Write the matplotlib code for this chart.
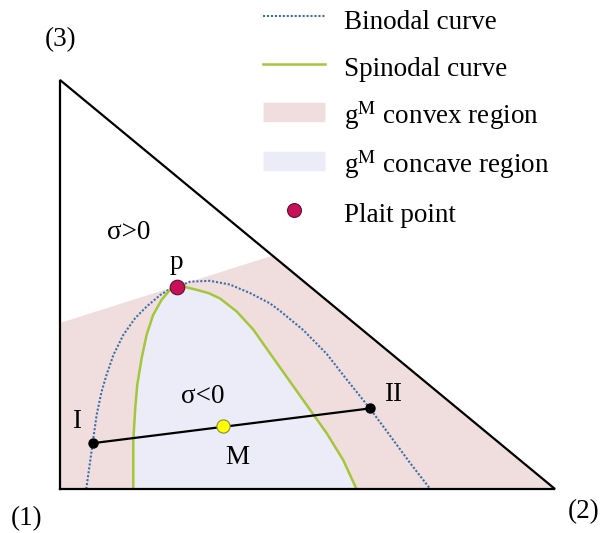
import numpy as np
import matplotlib.pyplot as plt
from matplotlib.lines import Line2D

plt.rcParams['font.family'] = ['Liberation Serif', 'DejaVu Serif']
plt.rcParams['mathtext.fontset'] = 'stix'

# composition coordinates: x2 = fraction of (2), x3 = fraction of (3)
triangle_x2 = [0.0, 1.0, 0.0, 0.0]
triangle_x3 = [0.0, 0.0, 1.0, 0.0]

binodal_x2 = [0.053, 0.059, 0.066, 0.074, 0.084, 0.094, 0.108, 0.128, 0.152,
              0.175, 0.202, 0.222, 0.236, 0.263, 0.303, 0.343, 0.384, 0.424,
              0.444, 0.492, 0.539, 0.579, 0.626, 0.667, 0.707, 0.748]
binodal_x3 = [0.000, 0.051, 0.112, 0.181, 0.238, 0.279, 0.328, 0.377, 0.418,
              0.446, 0.474, 0.489, 0.494, 0.507, 0.509, 0.500, 0.479, 0.454,
              0.436, 0.388, 0.330, 0.268, 0.197, 0.130, 0.064, 0.000]

spinodal_x2 = [0.148, 0.148, 0.152, 0.156, 0.165, 0.175, 0.188, 0.205, 0.222,
               0.236, 0.249, 0.276, 0.300, 0.323, 0.357, 0.391, 0.424, 0.458,
               0.492, 0.539, 0.572, 0.599]
spinodal_x3 = [0.000, 0.116, 0.198, 0.254, 0.320, 0.377, 0.425, 0.462, 0.487,
               0.494, 0.495, 0.487, 0.479, 0.466, 0.434, 0.389, 0.332, 0.274,
               0.216, 0.136, 0.071, 0.000]

# convex region: below the straight boundary through the plait point
convex_x2 = [0.0, 0.428, 1.0, 0.0]
convex_x3 = [0.406, 0.570, 0.0, 0.0]

plait = (0.236, 0.494)
phase_I = (0.066, 0.112)
phase_II = (0.626, 0.197)
mixture_M = (0.329, 0.155)

convex_color = '#f0dedf'
concave_color = '#ececf8'

fig = plt.figure(figsize=(6.02, 5.33), dpi=100)
ax = fig.add_axes([60 / 602, 44 / 533, 495 / 602, 409 / 533])
ax.set_xlim(0, 1)
ax.set_ylim(0, 1)
ax.axis('off')

binodal_style = dict(color='#3d6fa3', lw=1.5, dashes=(1, 0.9))
spinodal_style = dict(color='#a4c63a', lw=1.8)

ax.fill(convex_x2, convex_x3, color=convex_color, lw=0, zorder=1)
ax.fill(spinodal_x2, spinodal_x3, color=concave_color, lw=0, zorder=2)
ax.plot(binodal_x2, binodal_x3, zorder=3, **binodal_style)
ax.plot(spinodal_x2, spinodal_x3, zorder=4, solid_joinstyle='round',
        **spinodal_style)
ax.plot(triangle_x2, triangle_x3, color='black', lw=1.6, zorder=5,
        clip_on=False, solid_joinstyle='miter')

ax.plot([phase_I[0], phase_II[0]], [phase_I[1], phase_II[1]], color='black',
        lw=1.6, marker='o', ms=6.5, zorder=6)
ax.plot(*mixture_M, marker='o', ms=9.5, color='#ffff00', mec='#8a8a40',
        mew=0.8, zorder=7)
ax.plot(*plait, marker='o', ms=10.5, color='#c8105a', mec='#60102c',
        mew=0.8, zorder=7, clip_on=False)

fs = 19.5
ax.text(-0.067, -0.072, '(1)', fontsize=fs, ha='center', va='center', clip_on=False)
ax.text(1.057, -0.055, '(2)', fontsize=fs, ha='center', va='center', clip_on=False)
ax.text(0.002, 1.098, '(3)', fontsize=fs, ha='center', va='center', clip_on=False)
ax.text(0.138, 0.626, 'σ>0', fontsize=fs, ha='center', va='center')
ax.text(0.289, 0.225, 'σ<0', fontsize=fs, ha='center', va='center')
ax.text(0.236, 0.555, 'p', fontsize=fs, ha='center', va='center')
ax.text(0.034, 0.164, 'I', fontsize=fs, ha='center', va='center')
ax.text(0.672, 0.230, 'II', fontsize=fs, ha='center', va='center')
ax.text(0.358, 0.078, 'M', fontsize=fs, ha='center', va='center')

# thick butt-capped lines stand in for the filled swatches so every row has the same height
handles = [
    Line2D([], [], **binodal_style),
    Line2D([], [], **spinodal_style),
    Line2D([], [], color=convex_color, lw=14, solid_capstyle='butt'),
    Line2D([], [], color=concave_color, lw=14, solid_capstyle='butt'),
    Line2D([], [], ls='none', marker='o', ms=10, color='#c8105a',
           mec='#60102c', mew=0.8),
]
labels = ['Binodal curve', 'Spinodal curve', r'g$^{\mathrm{M}}$ convex region',
          r'g$^{\mathrm{M}}$ concave region', 'Plait point']
fig.legend(handles, labels, loc='upper left', bbox_to_anchor=(263 / 602, 1 - 4 / 533),
           frameon=False, fontsize=fs, handlelength=2.3, handleheight=1.4,
           handletextpad=0.68, labelspacing=0.60, borderpad=0, borderaxespad=0)

fig.savefig('out.png', dpi=100)
